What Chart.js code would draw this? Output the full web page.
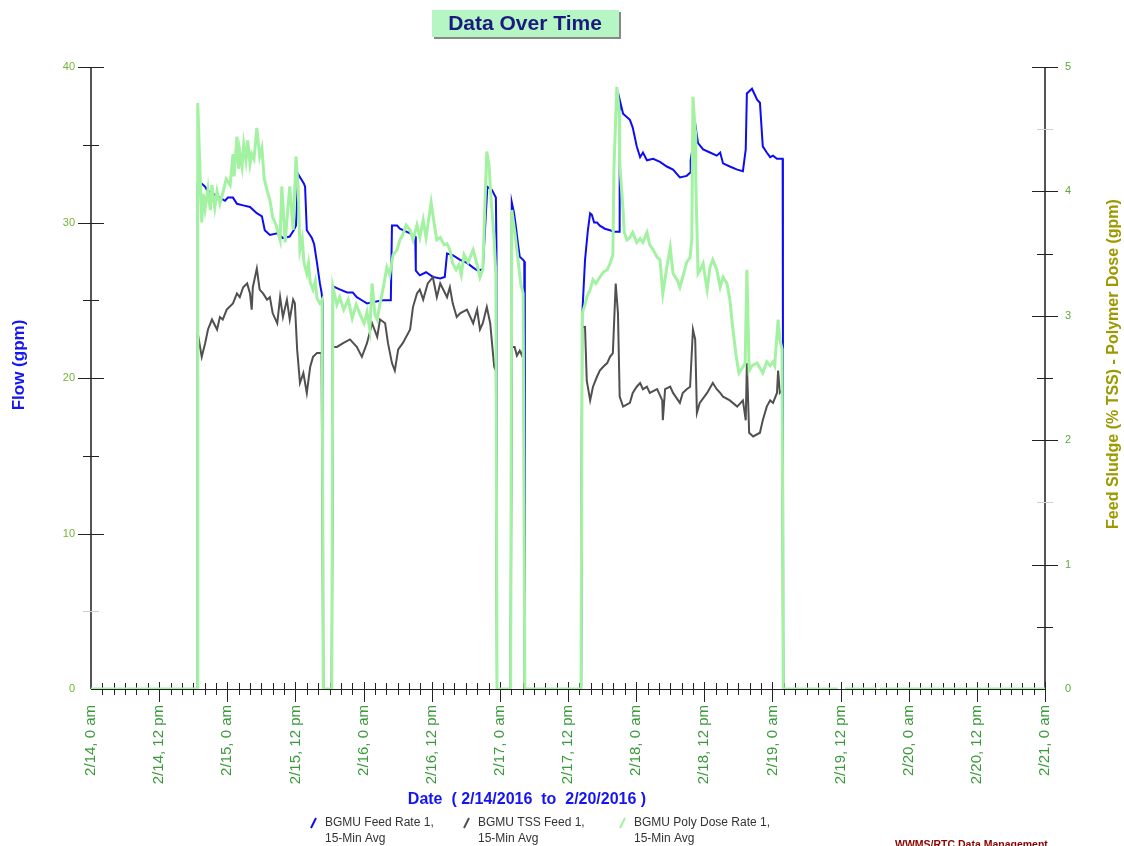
<!DOCTYPE html>
<html>
<head>
<meta charset="utf-8">
<title>Data Over Time</title>
<script src="https://cdn.jsdelivr.net/npm/chart.js@4.4.1/dist/chart.umd.min.js"></script>
<style>
  html, body { margin: 0; padding: 0; background: #fff; }
  #wrap { width: 1124px; height: 846px; }
</style>
</head>
<body>
<div id="wrap"><canvas id="trendChart" width="1124" height="846"></canvas></div>
<script>
const dayLabels = ['2/14', '2/15', '2/16', '2/17', '2/18', '2/19', '2/20', '2/21'];
const seriesNames = [
    ['BGMU Feed Rate 1,', '15-Min Avg'],
    ['BGMU TSS Feed 1,', '15-Min Avg'],
    ['BGMU Poly Dose Rate 1,', '15-Min Avg']
];

// [hours since 2/14 0:00, value]
const feedRate = [
    [18.7, 0], [18.8, 32.5], [19.5, 32.5], [20.1, 32.3], [20.4, 32.1], [21.1, 31.9], [21.7, 31.8], [22.7, 31.6], [23.6, 31.4],
    [24.1, 31.6], [25.0, 31.6], [25.7, 31.2], [26.8, 31.1], [28.0, 31.0], [29.2, 30.6], [30.1, 30.4], [30.6, 29.5],
    [31.5, 29.2], [32.8, 29.3], [33.8, 29.0], [35.0, 29.1], [35.7, 29.5], [36.1, 29.8], [36.5, 33.1], [37.5, 32.5],
    [37.7, 32.3], [38.0, 29.5], [38.9, 29.0], [39.3, 28.6], [39.8, 27.4], [40.3, 26.1], [40.6, 25.5], [40.8, 24.8],
    [40.9, 0], [42.4, 0], [42.6, 25.9], [43.8, 25.7], [45.1, 25.5], [46.1, 25.5], [46.8, 25.2], [47.7, 25.0],
    [48.6, 24.8], [50.0, 24.9], [51.4, 25.0], [52.8, 25.0], [53.0, 29.8], [53.9, 29.8], [54.4, 29.6], [56.2, 29.3],
    [57.1, 29.1], [57.2, 26.9], [57.9, 26.6], [59.0, 26.8], [60.2, 26.5], [61.5, 26.4], [62.3, 26.5], [62.7, 28.0],
    [63.7, 27.9], [65.0, 27.6], [66.2, 27.4], [67.3, 27.1], [68.1, 26.9], [69.0, 27.0], [69.8, 32.3], [70.6, 32.1],
    [71.3, 31.6], [71.4, 28.4], [71.5, 0], [73.9, 0], [74.1, 31.3], [74.5, 30.6], [74.8, 29.8], [75.2, 28.6],
    [75.5, 27.8], [76.1, 27.6], [76.3, 27.5], [76.4, 0], [86.3, 0], [86.5, 24.0], [87.0, 27.6], [87.5, 29.5], [87.9, 30.6],
    [88.2, 30.5], [88.6, 30.0], [89.1, 30.0], [89.6, 29.8], [90.5, 29.6], [91.4, 29.5], [92.1, 29.4], [93.0, 29.4],
    [93.1, 37.9], [93.7, 37.0], [94.9, 36.6], [95.4, 36.1], [96.1, 34.9], [96.7, 34.2], [97.2, 34.5], [97.9, 34.0],
    [99.0, 34.1], [100.2, 33.9], [101.4, 33.6], [102.5, 33.4], [103.7, 32.9], [104.9, 33.0], [105.5, 33.2], [105.6, 34.0],
    [106.5, 36.1], [106.9, 35.1], [107.8, 34.7], [109.0, 34.5], [110.2, 34.3], [110.8, 34.5], [111.3, 33.8], [112.5, 33.6],
    [113.8, 33.4], [114.8, 33.3], [115.3, 34.7], [115.5, 38.3], [116.4, 38.6], [117.3, 37.9], [117.8, 37.7], [118.3, 34.9],
    [119.0, 34.5], [119.6, 34.2], [120.1, 34.3], [120.8, 34.1], [121.8, 34.1], [121.85, 21.8], [121.9, 0]
];

const tssFeed = [
    [18.7, 0], [18.8, 2.86], [19.5, 2.67], [20.1, 2.78], [20.6, 2.89], [21.3, 2.97], [22.2, 2.89], [22.7, 2.99],
    [23.2, 2.97], [23.9, 3.05], [25.0, 3.10], [25.7, 3.18], [26.2, 3.15], [26.8, 3.23], [27.5, 3.26], [28.0, 3.18],
    [28.3, 3.05], [28.5, 3.23], [29.2, 3.38], [29.7, 3.21], [30.3, 3.18], [31.0, 3.13], [31.5, 3.15], [32.0, 3.02],
    [32.8, 2.94], [33.3, 3.15], [33.8, 2.99], [34.5, 3.13], [35.0, 2.97], [35.6, 3.13], [35.9, 3.10], [36.3, 2.73],
    [36.8, 2.46], [37.4, 2.54], [38.0, 2.38], [38.6, 2.59], [39.1, 2.67], [39.8, 2.70], [40.6, 2.70], [40.9, 0],
    [42.4, 0], [42.6, 2.75], [43.3, 2.75], [44.4, 2.78], [45.6, 2.81], [46.8, 2.75], [47.7, 2.67], [48.6, 2.78], [49.5, 2.94],
    [50.4, 2.83], [50.9, 2.97], [51.8, 2.94], [52.3, 2.78], [53.0, 2.62], [53.5, 2.56], [54.1, 2.73], [54.9, 2.78],
    [56.2, 2.89], [56.7, 3.07], [57.4, 3.18], [57.9, 3.21], [58.5, 3.13], [59.3, 3.26], [60.2, 3.31], [60.9, 3.15],
    [61.5, 3.26], [62.7, 3.15], [63.2, 3.23], [63.7, 3.10], [64.4, 2.99], [65.0, 3.02], [66.2, 3.05], [67.3, 2.94],
    [68.0, 3.05], [68.5, 2.89], [69.0, 2.94], [69.7, 3.07], [70.3, 2.94], [71.0, 2.59], [71.3, 2.56], [71.5, 0],
    [73.9, 0], [74.1, 2.75], [74.6, 2.75], [75.0, 2.68], [75.5, 2.72], [75.9, 2.68], [76.2, 2.77], [76.4, 0],
    [86.3, 0], [86.5, 2.91], [87.0, 2.91], [87.3, 2.48], [87.9, 2.32], [88.4, 2.43], [89.1, 2.51], [89.6, 2.56], [90.2, 2.59],
    [90.9, 2.62], [91.4, 2.67], [91.9, 2.70], [92.4, 3.26], [92.8, 3.02], [93.1, 2.35], [93.7, 2.27], [94.9, 2.30],
    [95.4, 2.38], [96.1, 2.43], [96.7, 2.46], [97.2, 2.41], [97.9, 2.43], [98.4, 2.38], [99.7, 2.41], [100.6, 2.32],
    [100.7, 2.16], [101.1, 2.41], [102.0, 2.43], [102.5, 2.38], [103.7, 2.30], [104.2, 2.38], [104.9, 2.41], [105.5, 2.43],
    [106.0, 2.89], [106.4, 2.81], [106.7, 2.22], [107.2, 2.30], [108.5, 2.38], [109.5, 2.46], [110.2, 2.41], [110.8, 2.38],
    [111.3, 2.35], [112.5, 2.32], [113.8, 2.27], [114.8, 2.32], [115.3, 2.16], [115.5, 2.62], [115.9, 2.06], [116.6, 2.03],
    [117.8, 2.06], [118.3, 2.16], [119.0, 2.27], [119.6, 2.32], [120.1, 2.30], [120.8, 2.38], [121.0, 2.56], [121.3, 2.38],
    [121.7, 2.40], [121.9, 0]
];

const polyDose = [
    [0, 0], [18.7, 0], [18.8, 4.71], [19.5, 3.75], [19.8, 3.98], [20.1, 3.86], [20.6, 4.02], [21.0, 3.85], [21.3, 4.05],
    [21.8, 3.87], [22.2, 4.00], [22.7, 3.90], [23.4, 4.02], [23.8, 4.10], [24.5, 4.05], [25.0, 4.30], [25.2, 4.12],
    [25.7, 4.44], [26.0, 4.18], [26.2, 4.32], [26.6, 4.20], [26.9, 4.38], [27.3, 4.25], [27.6, 4.41], [28.0, 4.22],
    [28.3, 4.30], [28.7, 4.26], [29.2, 4.51], [29.7, 4.28], [30.1, 4.35], [30.5, 4.10], [31.0, 4.01], [31.5, 3.93],
    [32.0, 3.79], [32.6, 3.73], [33.3, 3.61], [33.6, 4.04], [34.2, 3.59], [34.5, 3.77], [35.0, 4.04], [35.6, 3.69],
    [36.1, 4.28], [36.5, 4.01], [36.8, 3.53], [37.2, 3.62], [37.5, 3.43], [38.0, 3.34], [38.3, 3.42], [38.6, 3.27],
    [39.1, 3.21], [39.5, 3.28], [39.8, 3.14], [40.3, 3.10], [40.7, 3.13], [40.9, 0], [42.4, 0], [42.6, 3.23],
    [43.3, 3.09], [43.8, 3.15], [44.5, 3.05], [45.3, 3.13], [46.0, 2.98], [46.7, 3.09], [47.4, 3.01], [48.1, 2.94],
    [48.6, 3.03], [49.1, 2.89], [49.5, 3.26], [50.0, 3.01], [50.4, 2.97], [50.9, 3.10], [51.4, 3.21], [52.1, 3.39],
    [52.6, 3.33], [53.2, 3.49], [53.9, 3.53], [54.4, 3.61], [54.9, 3.65], [55.5, 3.73], [56.2, 3.69], [56.7, 3.61],
    [57.4, 3.73], [57.9, 3.63], [58.5, 3.77], [59.0, 3.63], [59.9, 3.91], [60.4, 3.75], [60.9, 3.61], [61.5, 3.63],
    [62.2, 3.57], [62.7, 3.58], [63.2, 3.53], [63.7, 3.42], [64.3, 3.37], [64.8, 3.41], [65.2, 3.33], [65.7, 3.49],
    [66.4, 3.43], [67.3, 3.53], [68.0, 3.41], [68.5, 3.31], [69.0, 3.37], [69.4, 3.93], [69.7, 4.32], [70.1, 4.21],
    [70.4, 3.97], [71.0, 3.61], [71.3, 3.33], [71.5, 0], [73.9, 0], [74.1, 3.85], [74.7, 3.65], [75.2, 3.45],
    [75.7, 3.25], [76.1, 3.18], [76.4, 0], [86.3, 0], [86.5, 3.02], [87.0, 3.09], [87.3, 3.15], [87.9, 3.21],
    [88.4, 3.29], [88.9, 3.26], [89.6, 3.31], [90.2, 3.35], [90.9, 3.37], [91.4, 3.42], [91.9, 3.49], [92.1, 4.20],
    [92.6, 4.84], [93.0, 4.65], [93.1, 4.23], [93.7, 3.85], [93.9, 3.67], [94.4, 3.61], [94.9, 3.63], [95.4, 3.67],
    [96.1, 3.59], [96.7, 3.62], [97.2, 3.59], [97.9, 3.67], [98.4, 3.57], [99.0, 3.53], [99.7, 3.47], [100.2, 3.45],
    [100.7, 3.18], [101.4, 3.39], [102.0, 3.55], [102.5, 3.34], [103.2, 3.29], [103.7, 3.23], [104.2, 3.31], [104.9, 3.43],
    [105.5, 3.47], [105.8, 3.61], [106.0, 4.76], [106.4, 4.49], [106.5, 4.09], [106.9, 3.34], [107.4, 3.38], [107.8, 3.42],
    [108.5, 3.21], [109.0, 3.39], [109.5, 3.45], [110.2, 3.37], [110.8, 3.23], [111.3, 3.31], [112.0, 3.26], [112.5, 3.13],
    [113.0, 2.91], [113.6, 2.68], [114.1, 2.54], [114.7, 2.58], [115.2, 2.62], [115.5, 3.37], [115.9, 2.56], [116.4, 2.60],
    [117.3, 2.62], [117.8, 2.58], [118.3, 2.54], [119.0, 2.63], [119.6, 2.60], [120.1, 2.63], [120.4, 2.60], [121.0, 2.97],
    [121.3, 2.81], [121.7, 2.73], [121.9, 0], [131.5, 0], [131.9, null], [132.8, 0], [138.4, 0], [138.6, null],
    [138.9, 0], [168, 0]
];

const FONT = '"Liberation Sans", Arial, sans-serif';
const seriesColors = ['#0d0df0', '#505050', '#a2f2a2'];

function toPoints(pairs) {
    return pairs.map(p => ({ x: p[0], y: p[1] }));
}

function tickLabel(h) {
    const day = dayLabels[Math.floor(h / 24)];
    return day + ', ' + (h % 24 === 0 ? '0 am' : '12 pm');
}

function line(ctx, x1, y1, x2, y2) {
    ctx.beginPath();
    ctx.moveTo(x1, y1);
    ctx.lineTo(x2, y2);
    ctx.stroke();
}

// axis lines and tick marks (ticks cross the axis like the original)
const axisFrame = {
    id: 'axisFrame',
    beforeDatasetsDraw(chart) {
        const { ctx, chartArea: a, scales } = chart;
        ctx.save();
        ctx.strokeStyle = '#555';
        ctx.lineWidth = 2;
        line(ctx, a.left, a.top, a.left, a.bottom);
        line(ctx, a.right, a.top, a.right, a.bottom);

        ctx.strokeStyle = '#222';
        ctx.lineWidth = 1;
        line(ctx, a.left, a.bottom + 0.5, a.right, a.bottom + 0.5);

        for (let h = 2; h <= 168; h += 2) {
            const px = Math.round(scales.x.getPixelForValue(h)) + 0.5;
            if (h % 12 === 0) line(ctx, px, a.bottom - 7, px, a.bottom + 13);
            else line(ctx, px, a.bottom - 6, px, a.bottom + 6);
        }

        for (let v = 5; v <= 40; v += 5) {
            const py = Math.round(scales.flow.getPixelForValue(v)) + 0.5;
            const len = v % 10 === 0 ? 13 : 8;
            ctx.strokeStyle = v === 5 ? '#d0d0d0' : '#222';
            line(ctx, a.left - len, py, a.left + len, py);
        }

        for (let v = 0.5; v <= 5; v += 0.5) {
            const py = Math.round(scales.sludge.getPixelForValue(v)) + 0.5;
            const len = v % 1 === 0 ? 13 : 8;
            ctx.strokeStyle = (v === 1.5 || v === 4.5) ? '#d0d0d0' : '#222';
            line(ctx, a.right - len, py, a.right + len, py);
        }
        ctx.restore();
    }
};

// title box, axis titles, legend and footer
const chartTexts = {
    id: 'chartTexts',
    afterDraw(chart) {
        const { ctx } = chart;
        ctx.save();

        ctx.fillStyle = '#888';
        ctx.fillRect(434, 12, 187, 27);
        ctx.fillStyle = '#b6f5c4';
        ctx.fillRect(432, 10, 187, 27);
        ctx.fillStyle = '#1b1b7e';
        ctx.font = 'bold 21px ' + FONT;
        ctx.textAlign = 'center';
        ctx.textBaseline = 'middle';
        ctx.fillText('Data Over Time', 525, 24);

        ctx.font = 'bold 17px ' + FONT;
        ctx.fillStyle = '#1414f5';
        ctx.save();
        ctx.translate(19, 365);
        ctx.rotate(-Math.PI / 2);
        ctx.fillText('Flow (gpm)', 0, 0);
        ctx.restore();

        ctx.font = 'bold 16px ' + FONT;
        ctx.fillStyle = '#9c9a00';
        ctx.save();
        ctx.translate(1114, 364);
        ctx.rotate(-Math.PI / 2);
        ctx.fillText('Feed Sludge (% TSS) - Polymer Dose (gpm)', 0, 0);
        ctx.restore();

        ctx.font = 'bold 16px ' + FONT;
        ctx.fillStyle = '#1414f5';
        ctx.fillText('Date  ( 2/14/2016  to  2/20/2016 )', 527, 800);

        // legend
        const legendX = [311, 464, 620];
        ctx.font = '12px ' + FONT;
        ctx.textAlign = 'left';
        chart.data.datasets.forEach((ds, i) => {
            const x = legendX[i];
            ctx.strokeStyle = ds.borderColor;
            ctx.lineWidth = 2;
            line(ctx, x, 828, x + 5, 818);
            ctx.fillStyle = '#333';
            ctx.fillText(seriesNames[i][0], x + 14, 823);
            ctx.fillText(seriesNames[i][1], x + 14, 839);
        });

        ctx.font = 'bold 10.5px ' + FONT;
        ctx.fillStyle = '#8b0000';
        ctx.textBaseline = 'top';
        ctx.fillText('WWMS/RTC Data Management', 895, 840);
        ctx.restore();
    }
};

const ctx = document.getElementById('trendChart');
const trendChart = new Chart(ctx, {
    type: 'line',
    data: {
        datasets: [
            {
                label: seriesNames[0].join(' '),
                data: toPoints(feedRate),
                yAxisID: 'flow',
                borderColor: seriesColors[0],
                borderWidth: 2,
                order: 2
            },
            {
                label: seriesNames[1].join(' '),
                data: toPoints(tssFeed),
                yAxisID: 'sludge',
                borderColor: seriesColors[1],
                borderWidth: 2,
                order: 1
            },
            {
                label: seriesNames[2].join(' '),
                data: toPoints(polyDose),
                yAxisID: 'sludge',
                borderColor: seriesColors[2],
                borderWidth: 3,
                order: 0
            }
        ]
    },
    options: {
        responsive: false,
        animation: false,
        devicePixelRatio: 1,
        spanGaps: false,
        elements: {
            point: { radius: 0 },
            line: { tension: 0, fill: false }
        },
        layout: { padding: { top: 67, left: 0, right: 0, bottom: 0 } },
        plugins: {
            legend: { display: false },
            tooltip: { enabled: false }
        },
        scales: {
            x: {
                type: 'linear',
                min: 0,
                max: 168,
                grid: { display: false, drawTicks: false },
                border: { display: false },
                afterFit: s => { s.height = 157; },
                ticks: {
                    stepSize: 12,
                    autoSkip: false,
                    minRotation: 90,
                    maxRotation: 90,
                    padding: 16,
                    color: '#3c9a3c',
                    font: { family: FONT, size: 15 },
                    callback: v => tickLabel(v)
                }
            },
            flow: {
                position: 'left',
                min: 0,
                max: 40,
                grid: { display: false, drawTicks: false },
                border: { display: false },
                afterFit: s => { s.width = 91; },
                ticks: {
                    stepSize: 10,
                    padding: 16,
                    color: '#74b336',
                    font: { family: FONT, size: 11 }
                }
            },
            sludge: {
                position: 'right',
                min: 0,
                max: 5,
                grid: { display: false, drawTicks: false },
                border: { display: false },
                afterFit: s => { s.width = 79; },
                ticks: {
                    stepSize: 1,
                    padding: 20,
                    color: '#5aac3c',
                    font: { family: FONT, size: 11 }
                }
            }
        }
    },
    plugins: [axisFrame, chartTexts]
});
</script>
</body>
</html>
